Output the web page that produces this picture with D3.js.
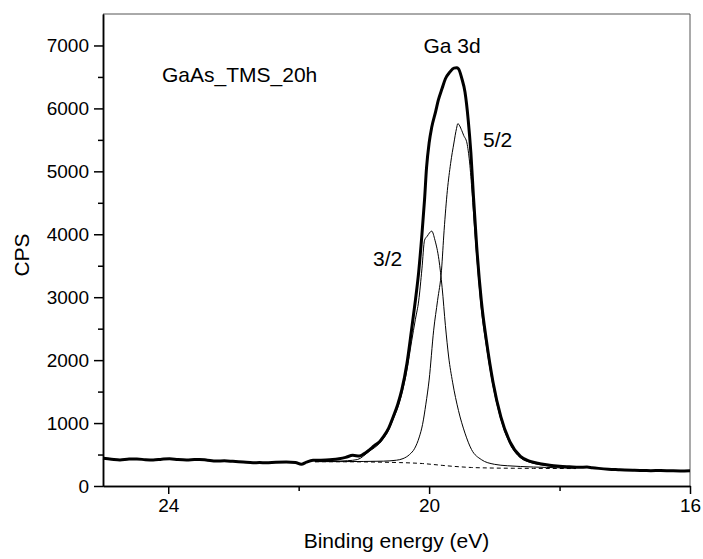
<!DOCTYPE html>
<html>
<head>
<meta charset="utf-8">
<script src="https://cdn.jsdelivr.net/npm/d3@7"></script>
<style>
  body { margin: 0; background: #fff; }
  text { font-family: "Liberation Sans", Arial, sans-serif; fill: #000; }
</style>
</head>
<body>
<div class="chart"></div>
<script>
// measured envelope (binding energy eV, counts per second)
var envelope = [
  [25.00,440],[24.87,425],[24.74,413],[24.60,428],[24.48,429],[24.35,418],[24.23,413],[24.10,426],
  [23.98,434],[23.85,420],[23.72,413],[23.60,420],[23.52,423],[23.40,410],[23.26,397],[23.14,400],
  [23.01,392],[22.85,380],[22.70,370],[22.60,372],[22.50,370],[22.35,378],[22.19,381],[22.05,375],
  [21.96,344],[21.88,380],[21.78,408],[21.68,410],[21.58,413],[21.48,420],[21.38,434],[21.28,455],
  [21.17,487],[21.07,476],[21.00,510],[20.92,571],[20.84,640],[20.76,703],[20.70,783],[20.62,920],
  [20.55,1100],[20.48,1300],[20.42,1524],[20.34,1948],[20.27,2476],[20.21,2952],[20.16,3400],
  [20.11,4000],[20.07,4550],[20.04,5050],[20.00,5450],[19.96,5700],[19.90,5950],[19.86,6127],
  [19.80,6320],[19.75,6471],[19.68,6580],[19.62,6640],[19.58,6645],[19.55,6630],[19.50,6480],
  [19.45,6259],[19.40,5810],[19.36,5300],[19.32,4600],[19.27,3800],[19.20,2950],[19.12,2300],
  [19.02,1650],[18.90,1100],[18.76,700],[18.60,470],[18.45,390],[18.30,355],[18.15,330],[18.00,315],
  [17.85,305],[17.70,296],[17.58,300],[17.50,290],[17.40,280],[17.25,268],[17.10,260],[17.00,255],
  [16.85,250],[16.70,246],[16.60,243],[16.45,247],[16.30,242],[16.15,238],[16.00,243]
];

// Ga 3d 3/2 component
var peak32 = [
  [21.75,388],[21.50,392],[21.25,402],[21.10,420],[20.92,550],[20.76,680],[20.62,890],[20.55,1065],
  [20.48,1250],[20.42,1460],[20.34,1840],[20.27,2290],[20.21,2650],[20.16,2940],[20.11,3450],
  [20.07,3905],[20.03,3968],[19.96,4050],[19.91,3905],[19.85,3600],[19.80,3150],[19.75,2550],
  [19.70,2050],[19.64,1650],[19.55,1200],[19.45,840],[19.35,580],[19.20,420],[19.00,345],
  [18.80,322],[18.60,310],[18.20,295],[17.90,286],[17.75,283]
];

// Ga 3d 5/2 component
var peak52 = [
  [21.75,387],[21.30,388],[21.00,390],[20.70,395],[20.50,410],[20.40,435],[20.30,500],[20.22,600],
  [20.15,780],[20.10,980],[20.05,1300],[20.00,1683],[19.93,2476],[19.87,2950],[19.81,3429],
  [19.77,4063],[19.72,4698],[19.67,5127],[19.62,5450],[19.58,5680],[19.56,5757],[19.50,5650],
  [19.47,5571],[19.42,5450],[19.38,5150],[19.34,4650],[19.30,4050],[19.25,3400],[19.20,2820],
  [19.12,2210],[19.02,1590],[18.90,1060],[18.76,670],[18.60,450],[18.45,375],[18.30,340],
  [18.15,318],[18.00,305],[17.85,292],[17.75,285]
];

// background (dashed)
var background = [
  [21.75,386],[21.30,385],[21.00,383],[20.70,378],[20.45,372],[20.25,365],[20.10,357],[19.95,343],
  [19.80,328],[19.65,314],[19.50,303],[19.35,294],[19.20,289],[19.00,285],[18.70,282],[18.40,280],
  [18.00,278],[17.75,277]
];

var xTicks = [24, 20, 16];
var xMinorTicks = [22, 18];
var yTicks = [0, 1000, 2000, 3000, 4000, 5000, 6000, 7000];
var yMinorTicks = [500, 1500, 2500, 3500, 4500, 5500, 6500];

var svgWidth = 703;
var svgHeight = 559;
var margin = { top: 14, right: 13, bottom: 73, left: 103 };
var width = svgWidth - margin.left - margin.right;
var height = svgHeight - margin.top - margin.bottom;

var svg = d3.select(".chart")
  .append("svg")
  .attr("width", svgWidth)
  .attr("height", svgHeight)
  .append("g")
  .attr("transform", "translate(" + margin.left + "," + margin.top + ")");

var xScale = d3.scaleLinear().domain([25, 16]).range([0, width]);
var yScale = d3.scaleLinear().domain([0, 7500]).range([height, 0]);

// frame: top and right
svg.append("line")
  .attr("x1", 0).attr("x2", width).attr("y1", 0).attr("y2", 0)
  .attr("stroke", "#555").attr("stroke-width", 1);
svg.append("line")
  .attr("x1", width).attr("x2", width).attr("y1", 0).attr("y2", height)
  .attr("stroke", "#555").attr("stroke-width", 1);

var line = d3.line()
  .x(function(d) { return xScale(d[0]); })
  .y(function(d) { return yScale(d[1]); })
  .curve(d3.curveMonotoneX);

svg.append("path").datum(background)
  .attr("d", line).attr("fill", "none")
  .attr("stroke", "#000").attr("stroke-width", 1)
  .attr("stroke-dasharray", "4,3");

svg.append("path").datum(peak32)
  .attr("d", line).attr("fill", "none")
  .attr("stroke", "#000").attr("stroke-width", 1);

svg.append("path").datum(peak52)
  .attr("d", line).attr("fill", "none")
  .attr("stroke", "#000").attr("stroke-width", 1);

svg.append("path").datum(envelope)
  .attr("d", line).attr("fill", "none")
  .attr("stroke", "#000").attr("stroke-width", 3)
  .attr("stroke-linejoin", "round");

// axes
var bottomAxis = d3.axisBottom(xScale).tickValues(xTicks).tickSize(8).tickSizeOuter(0).tickPadding(5)
  .tickFormat(d3.format("d"));
var bottomMinor = d3.axisBottom(xScale).tickValues(xMinorTicks).tickSize(5).tickSizeOuter(0)
  .tickFormat("");
var leftAxis = d3.axisLeft(yScale).tickValues(yTicks).tickSize(9).tickSizeOuter(0).tickPadding(5)
  .tickFormat(d3.format("d"));
var leftMinor = d3.axisLeft(yScale).tickValues(yMinorTicks).tickSize(5).tickSizeOuter(0)
  .tickFormat("");

function styleAxis(g) {
  g.selectAll("path, line").attr("stroke", "#000").attr("stroke-width", 1.5);
  g.selectAll("text").attr("font-size", "19px")
    .attr("font-family", "'Liberation Sans', Arial, sans-serif").attr("fill", "#000");
}

svg.append("g").attr("transform", "translate(0," + height + ")").call(bottomMinor).call(styleAxis);
svg.append("g").attr("transform", "translate(0," + height + ")").call(bottomAxis).call(styleAxis);
svg.append("g").call(leftMinor).call(styleAxis);
svg.append("g").call(leftAxis).call(styleAxis);

// axis titles
svg.append("text")
  .attr("transform", "translate(" + (29 - margin.left) + "," + (255 - margin.top) + ") rotate(-90)")
  .attr("text-anchor", "middle")
  .attr("font-size", "21px")
  .text("CPS");

svg.append("text")
  .attr("x", width / 2)
  .attr("y", 548 - margin.top)
  .attr("text-anchor", "middle")
  .attr("font-size", "21px")
  .text("Binding energy (eV)");

// annotations
svg.append("text")
  .attr("x", 162 - margin.left).attr("y", 82 - margin.top)
  .attr("font-size", "21px")
  .text("GaAs_TMS_20h");

svg.append("text")
  .attr("x", 452 - margin.left).attr("y", 53 - margin.top)
  .attr("text-anchor", "middle")
  .attr("font-size", "21px")
  .text("Ga 3d");

svg.append("text")
  .attr("x", 483 - margin.left).attr("y", 147 - margin.top)
  .attr("font-size", "21px")
  .text("5/2");

svg.append("text")
  .attr("x", 373 - margin.left).attr("y", 266 - margin.top)
  .attr("font-size", "21px")
  .text("3/2");
</script>
</body>
</html>
